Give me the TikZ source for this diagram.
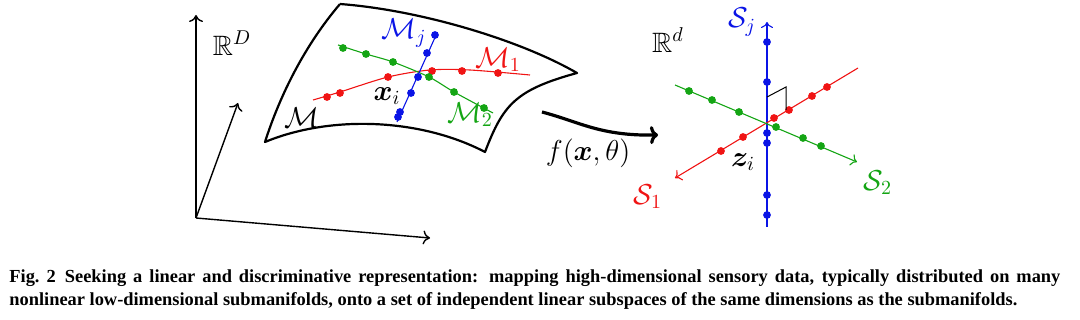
\documentclass[tikz,border=0pt]{standalone}
\usepackage{amsmath,amssymb}
\usepackage{bm}
\usepackage{fontspec}
\newfontfamily\capfont{Liberation Serif}
\usepackage{tikz}
\usetikzlibrary{arrows.meta, positioning, calc}

\definecolor{mred}{RGB}{240,20,20}
\definecolor{mgreen}{RGB}{20,165,20}
\definecolor{mblue}{RGB}{10,20,230}

\begin{document}
\begin{tikzpicture}[x=0.5pt, y=-0.5pt,
    axis/.style={-{To[length=3.5pt, width=7pt]}, line width=0.7pt, black},
    sheet/.style={line width=1.1pt, black, line join=round},
    curve/.style={line width=0.55pt},
    subax/.style={-{To[length=3pt, width=6pt]}, line width=0.55pt},
    maparrow/.style={-{To[length=4pt, width=9pt]}, line width=1.6pt, black},
    dot/.style={circle, fill, inner sep=0pt, minimum size=3.9pt},
    lab/.style={font=\fontsize{14}{16}\selectfont, inner sep=1pt},
]
\useasboundingbox (0,0) rectangle (1080,320);

% Ambient space R^D
\coordinate (O) at (196,218);
\coordinate (Oup) at (196,15);
\coordinate (Oright) at (430,238);
\coordinate (Odiag) at (238,103);
\draw[axis] (O) -- (Oup);
\draw[axis] (O) -- (Oright);
\draw[axis] (O) -- (Odiag);
\node[lab] (RD) at (232,43) {$\mathbb{R}^D$};

% Manifold sheet
\coordinate (tl) at (340,4);
\coordinate (tr) at (577,73);
\coordinate (br) at (485,152);
\coordinate (bl) at (265,142);
\draw[sheet] (tl) .. controls (420,10) and (520,40) .. (tr)
    .. controls (515,90) and (503,105) .. (br)
    .. controls (420,118) and (330,115) .. (bl)
    .. controls (280,95) and (305,45) .. (tl);

% Submanifolds
\draw[curve, mred] plot[smooth] coordinates {(313,100) (340,92) (388,77) (430,70) (470,70) (530,75)};
\draw[curve, mgreen] plot[smooth] coordinates {(338,45) (366,54) (393,62) (429,77) (454,92) (493,113)};
\coordinate (bj1) at (397,122);
\coordinate (bj2) at (437,33);
\draw[curve, mblue] (bj1) -- (bj2);

\foreach \p [count=\i] in {(327,97),(340,93),(388,77),(432,71),(462,71),(498,73)}
    \node[dot, mred] (m1\i) at \p {};
\foreach \p [count=\i] in {(343,48),(366,54),(393,62),(429,77),(454,92),(484,108)}
    \node[dot, mgreen] (m2\i) at \p {};
\foreach \p [count=\i] in {(435,35),(427,53),(418,77),(411,93),(400,112),(398,117)}
    \node[dot, mblue] (mj\i) at \p {};

\node[lab, mblue] (Mj) at (404,33) {$\mathcal{M}_j$};
\node[lab, mred] (M1) at (498,60) {$\mathcal{M}_1$};
\node[lab, mgreen] (M2) at (470,115) {$\mathcal{M}_2$};
\node[lab] (M) at (302,118) {$\mathcal{M}$};
\node[lab] (xi) at (387,96) {$\bm{x}_i$};

% Mapping
\coordinate (fs) at (542,112);
\coordinate (fe) at (658,135);
\draw[maparrow] (fs) .. controls (580,122) and (600,136) .. (fe);
\node[lab] (f) at (588,153) {$f(\bm{x},\theta)$};

% Feature space R^d
\coordinate (o) at (767,123);
\coordinate (sjb) at (767,227);
\coordinate (sjt) at (767,22);
\coordinate (s1a) at (858,68);
\coordinate (s1b) at (675,178);
\coordinate (s2a) at (675,85);
\coordinate (s2b) at (857,162);
\draw[subax, mblue] (sjb) -- (sjt);
\draw[subax, mred] (s1a) -- (s1b);
\draw[subax, mgreen] (s2a) -- (s2b);

\foreach \p [count=\i] in {(767,42),(767,82),(767,133),(767,143),(767,195),(767,215)}
    \node[dot, mblue] (sj\i) at \p {};
\foreach \p [count=\i] in {(827,87),(812,96),(789,110),(774,118),(743,137),(721,151)}
    \node[dot, mred] (s1\i) at \p {};
\foreach \p [count=\i] in {(689,91),(712,100),(739,112),(776,127),(803,138),(821,146)}
    \node[dot, mgreen] (s2\i) at \p {};

% right angle mark
\coordinate (ra1) at (767,97);
\coordinate (ra2) at (786,87);
\coordinate (ra3) at (786,110);
\draw[line width=0.5pt] (ra1) -- (ra2) -- (ra3);

\node[lab] (Rd) at (668,40) {$\mathbb{R}^d$};
\node[lab, mblue] (Sj) at (742,22) {$\mathcal{S}_j$};
\node[lab, mred] (S1) at (648,197) {$\mathcal{S}_1$};
\node[lab, mgreen] (S2) at (878,183) {$\mathcal{S}_2$};
\node[lab] (zi) at (743,162) {$\bm{z}_i$};

% Caption
\node[anchor=north west, inner sep=0pt, text width=525.5pt, align=justify,
      font=\capfont\bfseries\fontsize{9.2}{11.5}\selectfont] (cap) at (9,269)
    {Fig.~2\enskip Seeking a linear and discriminative representation: mapping high-dimensional sensory data, typically distributed on many\linebreak
     nonlinear low-dimensional submanifolds, onto a set of independent linear subspaces of the same dimensions as the submanifolds.};
\end{tikzpicture}
\end{document}
